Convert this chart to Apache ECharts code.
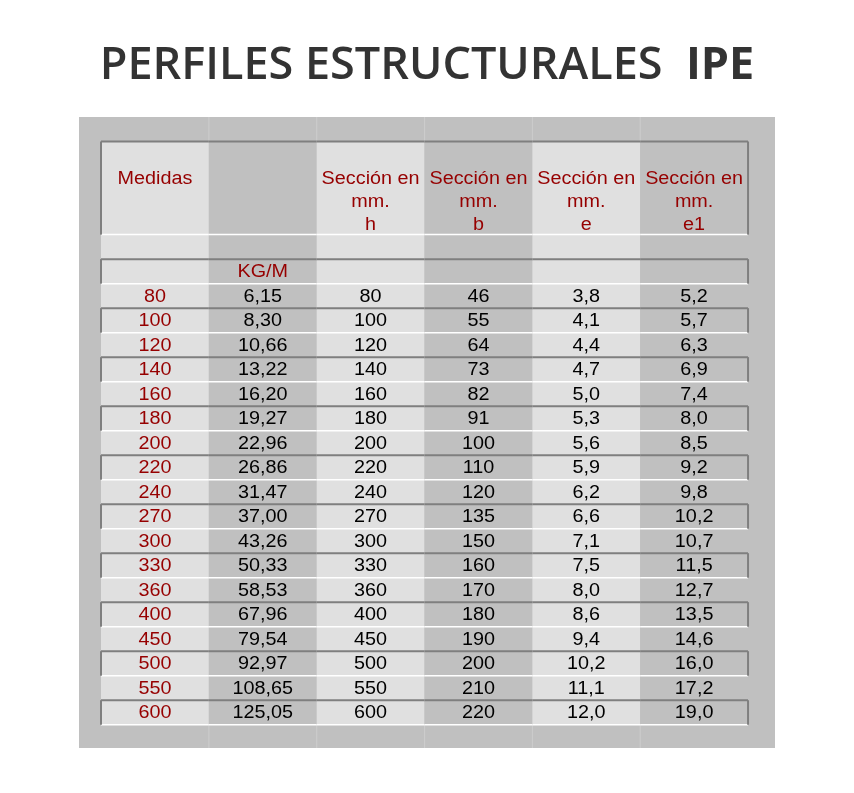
<!DOCTYPE html>
<html>
<head>
<meta charset="utf-8">
<script src="https://cdn.jsdelivr.net/npm/echarts@6/dist/echarts.min.js"></script>
<style>
  html, body { margin: 0; padding: 0; background: #fff; }
  #chart { width: 854px; height: 793px; }
</style>
</head>
<body>
<div id="chart"></div>
<script>
// tabla IPE: medidas, peso y secciones
const headers = ['Medidas', '', 'Sección en\nmm.\nh', 'Sección en\nmm.\nb', 'Sección en\nmm.\ne', 'Sección en\nmm.\ne1'];
const unitLabels = ['', 'KG/M', '', '', '', ''];
const medidas = [80, 100, 120, 140, 160, 180, 200, 220, 240, 270, 300, 330, 360, 400, 450, 500, 550, 600];
const kgm = [6.15, 8.30, 10.66, 13.22, 16.20, 19.27, 22.96, 26.86, 31.47, 37.00, 43.26, 50.33, 58.53, 67.96, 79.54, 92.97, 108.65, 125.05];
const secH = [80, 100, 120, 140, 160, 180, 200, 220, 240, 270, 300, 330, 360, 400, 450, 500, 550, 600];
const secB = [46, 55, 64, 73, 82, 91, 100, 110, 120, 135, 150, 160, 170, 180, 190, 200, 210, 220];
const secE = [3.8, 4.1, 4.4, 4.7, 5.0, 5.3, 5.6, 5.9, 6.2, 6.6, 7.1, 7.5, 8.0, 8.6, 9.4, 10.2, 11.1, 12.0];
const secE1 = [5.2, 5.7, 6.3, 6.9, 7.4, 8.0, 8.5, 9.2, 9.8, 10.2, 10.7, 11.5, 12.7, 13.5, 14.6, 16.0, 17.2, 19.0];

const RED = '#960000';
const LIGHT = '#e0e0e0';
const DARK = '#c0c0c0';
const HEADER_SPAN = 3.8;

const fmt = (v, d) => v.toFixed(d).replace('.', ',');

// filas de la tabla (en unidades de fila)
const rows = [];
let y = 0;
rows.push({ kind: 'strip', y0: y, y1: y + 1, top: null, sides: false }); y += 1;
rows.push({ kind: 'header', y0: y, y1: y + HEADER_SPAN, top: 'dark', sides: true, texts: headers }); y += HEADER_SPAN;
rows.push({ kind: 'blank', y0: y, y1: y + 1, top: 'white', sides: false, texts: ['', '', '', '', '', ''] }); y += 1;
rows.push({ kind: 'unit', y0: y, y1: y + 1, top: 'dark', sides: true, texts: unitLabels }); y += 1;
medidas.forEach((m, i) => {
  rows.push({
    kind: 'data', y0: y, y1: y + 1,
    top: i % 2 ? 'dark' : 'white', sides: i % 2 === 1,
    texts: [String(m), fmt(kgm[i], 2), String(secH[i]), String(secB[i]), fmt(secE[i], 1), fmt(secE1[i], 1)]
  });
  y += 1;
});
rows.push({ kind: 'strip', y0: y, y1: y + 0.95, top: 'white', sides: false });
const yMax = y + 0.95;

const cells = [];
rows.forEach(r => {
  for (let c = 0; c < 6; c++) cells.push({ row: r, col: c });
});

function renderItem(params, api) {
  const cell = cells[params.dataIndex];
  const r = cell.row, c = cell.col;
  const p0 = api.coord([api.value(0), api.value(1)]);
  const p1 = api.coord([api.value(0) + 1, api.value(2)]);
  const children = [];
  const fill = r.kind === 'strip' ? DARK : (c % 2 === 0 ? LIGHT : DARK);
  children.push({ type: 'rect', z2: 0, shape: { x: p0[0], y: p0[1], width: p1[0] - p0[0], height: p1[1] - p0[1] }, style: { fill: fill } });
  if (r.kind === 'strip' && c > 0) {
    children.push({ type: 'line', z2: 5, shape: { x1: p0[0], y1: p0[1], x2: p0[0], y2: p1[1] }, style: { stroke: '#cdcdcd', lineWidth: 1 } });
  }
  if (r.top === 'dark') {
    children.push({ type: 'line', z2: 12, shape: { x1: p0[0], y1: p0[1], x2: p1[0], y2: p0[1] }, style: { stroke: '#7f7f7f', lineWidth: 2 } });
  } else if (r.top === 'white') {
    children.push({ type: 'line', z2: 11, shape: { x1: p0[0], y1: p0[1], x2: p1[0], y2: p0[1] }, style: { stroke: '#ffffff', lineWidth: 1.5 } });
  }
  if (r.sides && c === 0) {
    children.push({ type: 'line', z2: 12, shape: { x1: p0[0], y1: p0[1], x2: p0[0], y2: p1[1] }, style: { stroke: '#7f7f7f', lineWidth: 2 } });
  }
  if (r.sides && c === 5) {
    children.push({ type: 'line', z2: 12, shape: { x1: p1[0], y1: p0[1], x2: p1[0], y2: p1[1] }, style: { stroke: '#7f7f7f', lineWidth: 2 } });
  }
  const txt = r.texts ? r.texts[c] : '';
  if (txt) {
    const isHeader = r.kind === 'header';
    const color = (r.kind === 'data' && c > 0) ? '#000' : RED;
    children.push({
      type: 'text', z2: 20,
      x: (p0[0] + p1[0]) / 2,
      y: isHeader ? p0[1] + 26.5 : (p0[1] + p1[1]) / 2 + 1,
      scaleX: 1.1,
      style: {
        text: txt,
        fill: color,
        font: '18px "Liberation Sans", Arial, sans-serif',
        align: 'center',
        verticalAlign: isHeader ? 'top' : 'middle',
        lineHeight: 23
      }
    });
  }
  return { type: 'group', children: children };
}

const chart = echarts.init(document.getElementById('chart'));
const option = {
  backgroundColor: '#fff',
  animation: false,
  graphic: [
    {
      type: 'text',
      x: 427,
      y: 66,
      style: {
        text: '{a|PERFILES ESTRUCTURALES  }{b|IPE}',
        align: 'center',
        verticalAlign: 'middle',
        rich: {
          a: { font: '600 45px "Open Sans", sans-serif', fill: '#333' },
          b: { font: 'bold 45px "Open Sans", sans-serif', fill: '#333' }
        }
      }
    }
  ],
  grid: {
    left: 79, right: 79, top: 117, bottom: 45,
    show: true, backgroundColor: DARK, borderWidth: 0
  },
  xAxis: { type: 'value', min: -0.204, max: 6.25, show: false },
  yAxis: { type: 'value', min: 0, max: yMax, inverse: true, show: false },
  series: [
    {
      type: 'custom',
      renderItem: renderItem,
      data: cells.map(cl => [cl.col, cl.row.y0, cl.row.y1]),
      silent: true
    }
  ]
};
chart.setOption(option, true);
</script>
</body>
</html>
